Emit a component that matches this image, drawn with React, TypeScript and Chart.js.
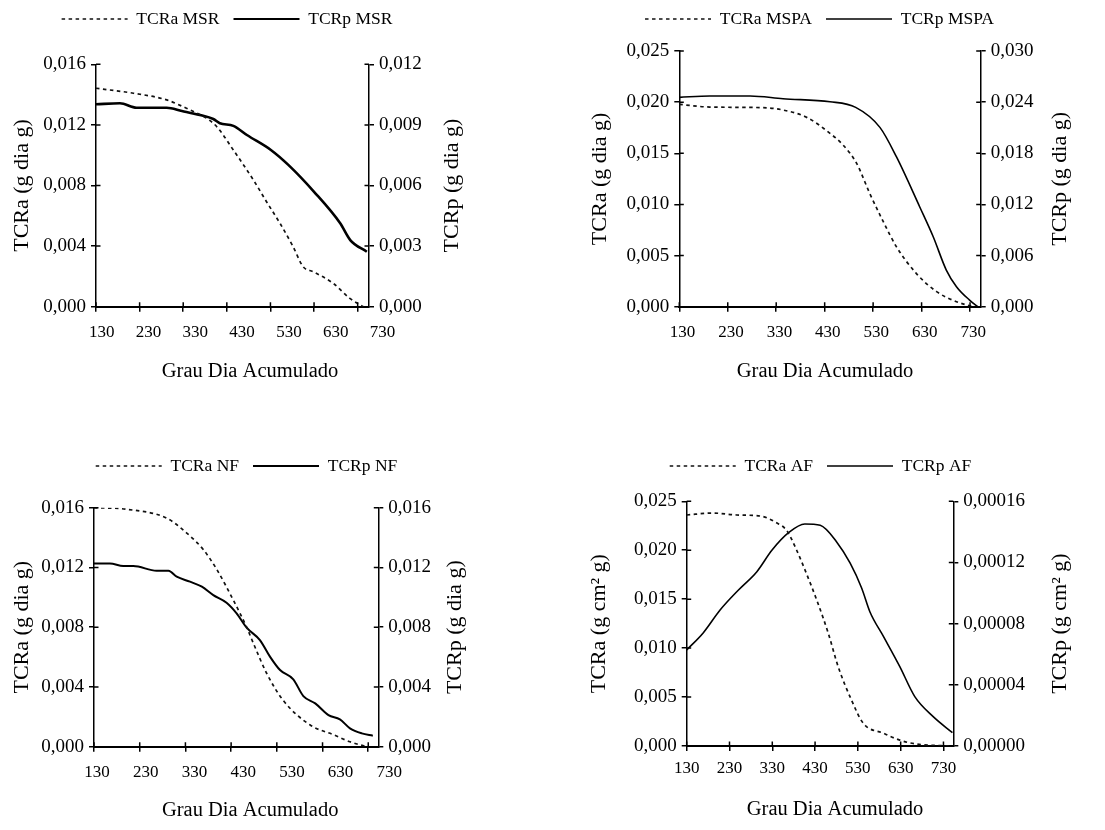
import React, { useEffect, useRef } from 'react';
import { Chart, registerables } from 'chart.js';

Chart.register(...registerables);

const FONT = "'Liberation Serif', 'Times New Roman', serif";

// ---------- shared axis data ----------
const X_TICKS = [130, 230, 330, 430, 530, 630, 730];
const X_TITLE = 'Grau Dia Acumulado';

// ---------- Panel 1: MSR ----------
const MSR_LABELS = ['TCRa MSR', 'TCRp MSR'];
const MSR_A_X = [130, 216, 292, 346, 384, 407, 445, 491, 521, 552, 582, 605, 628, 674, 712, 743];
const MSR_A_Y = [0.01442, 0.01409, 0.01365, 0.01298, 0.01243, 0.01188, 0.01034, 0.00836, 0.00693, 0.0055, 0.00396, 0.00264, 0.00231, 0.00154, 0.00055, 0];
const MSR_P_X = [130, 185, 223, 292, 327, 368, 399, 414, 445, 476, 531, 571, 630, 690, 713, 751];
const MSR_P_Y = [0.01002, 0.01007, 0.00985, 0.00985, 0.00969, 0.00949, 0.00929, 0.00908, 0.00895, 0.0085, 0.00776, 0.00702, 0.00569, 0.00413, 0.0033, 0.00272];
const MSR_LEFT_TICKS = [0, 0.004, 0.008, 0.012, 0.016];
const MSR_RIGHT_TICKS = [0, 0.003, 0.006, 0.009, 0.012];

// ---------- Panel 2: MSPA ----------
const MSPA_LABELS = ['TCRa MSPA', 'TCRp MSPA'];
const MSPA_A_X = [130, 193, 303, 344, 393, 441, 468, 496, 523, 551, 578, 619, 661, 702, 736];
const MSPA_A_Y = [0.01978, 0.01952, 0.01946, 0.01923, 0.01851, 0.01695, 0.01581, 0.01401, 0.01108, 0.00831, 0.00587, 0.00326, 0.00147, 0.00049, 0];
const MSPA_P_X = [130, 193, 276, 344, 441, 494, 544, 578, 626, 654, 681, 702, 729, 746];
const MSPA_P_Y = [0.02456, 0.02472, 0.02472, 0.0244, 0.02405, 0.02339, 0.02104, 0.0176, 0.01173, 0.00821, 0.0043, 0.00235, 0.00078, 0];
const MSPA_LEFT_TICKS = [0, 0.005, 0.01, 0.015, 0.02, 0.025];
const MSPA_RIGHT_TICKS = [0, 0.006, 0.012, 0.018, 0.024, 0.03];

// ---------- Panel 3: NF ----------
const NF_LABELS = ['TCRa NF', 'TCRp NF'];
const NF_A_X = [130, 200, 289, 333, 369, 398, 435, 464, 479, 508, 544, 603, 654, 690, 727];
const NF_A_Y = [0.016, 0.0159, 0.0153, 0.0143, 0.0132, 0.0119, 0.0098, 0.008, 0.0069, 0.0049, 0.0031, 0.00145, 0.0008, 0.00033, 0];
const NF_P_X = [130, 165, 194, 216, 267, 293, 311, 340, 366, 391, 420, 442, 464, 493, 515, 537, 566, 588, 614, 643, 668, 690, 716, 740];
const NF_P_Y = [0.01227, 0.01227, 0.0121, 0.0121, 0.01178, 0.01178, 0.01138, 0.01105, 0.01071, 0.01015, 0.00964, 0.00893, 0.00797, 0.00714, 0.00603, 0.00513, 0.00451, 0.00339, 0.0029, 0.00212, 0.00183, 0.00123, 0.00089, 0.00074];
const NF_LEFT_TICKS = [0, 0.004, 0.008, 0.012, 0.016];
const NF_RIGHT_TICKS = [0, 0.004, 0.008, 0.012, 0.016];

// ---------- Panel 4: AF ----------
const AF_LABELS = ['TCRa AF', 'TCRp AF'];
const AF_A_X = [130, 192, 247, 301, 340, 364, 387, 410, 434, 461, 484, 515, 543, 590, 628, 667, 745];
const AF_A_Y = [0.0236, 0.0238, 0.0236, 0.0235, 0.0228, 0.022, 0.02, 0.0176, 0.0149, 0.0115, 0.0081, 0.0047, 0.0023, 0.0013, 0.0006, 0.0002, 0];
const AF_P_X = [130, 169, 208, 251, 294, 329, 368, 406, 442, 480, 512, 539, 558, 590, 628, 663, 706, 751];
const AF_P_Y = [0.0000628, 0.0000741, 0.0000889, 0.000102, 0.000114, 0.000128, 0.0001395, 0.0001452, 0.0001443, 0.0001336, 0.0001195, 0.0001031, 0.0000878, 0.0000715, 0.0000519, 0.0000323, 0.0000192, 0.0000087];
const AF_LEFT_TICKS = [0, 0.005, 0.01, 0.015, 0.02, 0.025];
const AF_RIGHT_TICKS = [0, 0.00004, 0.00008, 0.00012, 0.00016];

const fmt = (v: number, d: number) => v.toFixed(d).replace('.', ',');

const PANELS = [
  {
    key: 'msr', labels: MSR_LABELS, aX: MSR_A_X, aY: MSR_A_Y, pX: MSR_P_X, pY: MSR_P_Y,
    leftTicks: MSR_LEFT_TICKS, rightTicks: MSR_RIGHT_TICKS, leftDec: 3, rightDec: 3,
    leftTitle: 'TCRa (g dia g)', rightTitle: 'TCRp (g dia g)', xMax: 756,
    canvas: { left: 0, top: -10, width: 552, height: 425 },
    pad: { left: 0, right: 98, top: 6.25, bottom: 68.3 }, leftW: 96, rightW: 85, legendGap: 26.55, xAxisH: 40,
    solidW: 2.6, leftTitleDx: -74, rightTitleDx: 83, xTitleDx: 17.5, xTitleDy: 65.3,
    xLabelDy: 26, xLabelShift: 5.7, xLabelStretch: 1.073,
  },
  {
    key: 'mspa', labels: MSPA_LABELS, aX: MSPA_A_X, aY: MSPA_A_Y, pX: MSPA_P_X, pY: MSPA_P_Y,
    leftTicks: MSPA_LEFT_TICKS, rightTicks: MSPA_RIGHT_TICKS, leftDec: 3, rightDec: 3,
    leftTitle: 'TCRa (g dia g)', rightTitle: 'TCRp (g dia g)', xMax: 752,
    canvas: { left: 552, top: -10, width: 553, height: 425 },
    pad: { left: 0, right: 18, top: 6.25, bottom: 68.3 }, leftW: 127.3, rightW: 106.3, legendGap: 13.25, xAxisH: 40,
    solidW: 1.6, leftTitleDx: -79.3, rightTitleDx: 79.3, xTitleDx: -5, xTitleDy: 65.3,
    xLabelDy: 26, xLabelShift: 3.2, xLabelStretch: 1.0,
  },
  {
    key: 'nf', labels: NF_LABELS, aX: NF_A_X, aY: NF_A_Y, pX: NF_P_X, pY: NF_P_Y,
    leftTicks: NF_LEFT_TICKS, rightTicks: NF_RIGHT_TICKS, leftDec: 3, rightDec: 3,
    leftTitle: 'TCRa (g dia g)', rightTitle: 'TCRp (g dia g)', xMax: 752,
    canvas: { left: 0, top: 415, width: 552, height: 415 },
    pad: { left: 0, right: 59, top: 28.25, bottom: 43.3 }, leftW: 94, rightW: 114.7, legendGap: 22.95, xAxisH: 40,
    solidW: 2.0, leftTitleDx: -72, rightTitleDx: 76.7, xTitleDx: 14, xTitleDy: 63.5,
    xLabelDy: 26, xLabelShift: 3, xLabelStretch: 1.066,
  },
  {
    key: 'af', labels: AF_LABELS, aX: AF_A_X, aY: AF_A_Y, pX: AF_P_X, pY: AF_P_Y,
    leftTicks: AF_LEFT_TICKS, rightTicks: AF_RIGHT_TICKS, leftDec: 3, rightDec: 5,
    leftTitle: 'TCRa (g cm\u00B2 g)', rightTitle: 'TCRp (g cm\u00B2 g)', xMax: 753,
    canvas: { left: 552, top: 415, width: 553, height: 415 },
    pad: { left: 0, right: 16, top: 28.25, bottom: 44 }, leftW: 134.7, rightW: 135.7, legendGap: 16.55, xAxisH: 40,
    solidW: 1.6, leftTitleDx: -87.7, rightTitleDx: 106.7, xTitleDx: 15, xTitleDy: 63.5,
    xLabelDy: 23, xLabelShift: 0, xLabelStretch: 1.0,
  },
];

type PanelCfg = (typeof PANELS)[number];

function makeDecor(p: PanelCfg) {
  return {
    id: 'decor_' + p.key,
    beforeLayout(chart: any) {
      const lg = chart.legend;
      if (lg && !lg.__gapPatched) {
        const fit = lg.fit.bind(lg);
        lg.fit = () => {
          fit();
          lg.height += p.legendGap;
        };
        lg.__gapPatched = true;
      }
    },
    afterDraw(chart: any) {
      const { ctx, chartArea: ca, scales } = chart;
      const xs = scales.x;
      const yl = scales.y;
      const yr = scales.y1;
      ctx.save();
      // inner halves of tick marks (ticks cross the axes)
      ctx.strokeStyle = '#000';
      ctx.lineWidth = 1.5;
      ctx.beginPath();
      yl.ticks.forEach((t: any) => {
        const py = yl.getPixelForValue(t.value);
        ctx.moveTo(ca.left, py);
        ctx.lineTo(ca.left + 4.5, py);
      });
      yr.ticks.forEach((t: any) => {
        const py = yr.getPixelForValue(t.value);
        ctx.moveTo(ca.right - 4.5, py);
        ctx.lineTo(ca.right, py);
      });
      xs.ticks.forEach((t: any) => {
        const px = xs.getPixelForValue(t.value);
        ctx.moveTo(px, ca.bottom - 4.5);
        ctx.lineTo(px, ca.bottom);
      });
      ctx.stroke();

      // x tick labels
      ctx.fillStyle = '#000';
      ctx.textAlign = 'center';
      ctx.textBaseline = 'middle';
      ctx.font = `17px ${FONT}`;
      xs.ticks.forEach((t: any) => {
        const px = xs.getPixelForValue(t.value);
        const lx = ca.left + p.xLabelShift + (px - ca.left) * p.xLabelStretch;
        ctx.fillText(String(t.value), lx, ca.bottom + p.xLabelDy);
      });

      // axis titles
      const midY = (ca.top + ca.bottom) / 2;
      ctx.font = `22px ${FONT}`;
      ctx.save();
      ctx.translate(ca.left + p.leftTitleDx, midY);
      ctx.rotate(-Math.PI / 2);
      ctx.fillText(p.leftTitle, 0, 0);
      ctx.restore();
      ctx.save();
      ctx.translate(ca.right + p.rightTitleDx, midY);
      ctx.rotate(-Math.PI / 2);
      ctx.fillText(p.rightTitle, 0, 0);
      ctx.restore();
      ctx.font = `20.5px ${FONT}`;
      ctx.fillText(X_TITLE, (ca.left + ca.right) / 2 + p.xTitleDx, ca.bottom + p.xTitleDy);
      ctx.restore();
    },
  };
}

function buildConfig(p: PanelCfg): any {
  const yAxis = (ticksArr: number[], dec: number, position: string, w: number) => ({
    type: 'linear',
    position,
    min: ticksArr[0],
    max: ticksArr[ticksArr.length - 1],
    afterBuildTicks: (s: any) => {
      s.ticks = ticksArr.map((v) => ({ value: v }));
    },
    afterFit: (s: any) => {
      s.width = w;
    },
    border: { display: true, color: '#000', width: 1.5 },
    grid: { display: true, drawOnChartArea: false, drawTicks: true, tickLength: 5, color: '#000', lineWidth: 1.5 },
    ticks: {
      color: '#000',
      padding: 5,
      font: { family: FONT, size: 19 },
      callback: (v: any) => fmt(Number(v), dec),
    },
  });

  return {
    type: 'line',
    data: {
      datasets: [
        {
          label: p.labels[0],
          data: p.aX.map((x, i) => ({ x, y: p.aY[i] })),
          yAxisID: 'y',
          borderColor: '#111',
          borderWidth: 1.7,
          borderDash: [3.5, 3.5],
          pointRadius: 0,
          fill: false,
          cubicInterpolationMode: 'monotone',
        },
        {
          label: p.labels[1],
          data: p.pX.map((x, i) => ({ x, y: p.pY[i] })),
          yAxisID: 'y1',
          borderColor: '#000',
          borderWidth: p.solidW,
          borderDash: [],
          pointRadius: 0,
          fill: false,
          cubicInterpolationMode: 'monotone',
        },
      ],
    },
    options: {
      responsive: false,
      maintainAspectRatio: false,
      animation: false,
      devicePixelRatio: 1,
      layout: { padding: p.pad },
      scales: {
        x: {
          type: 'linear',
          position: 'bottom',
          min: X_TICKS[0],
          max: p.xMax,
          afterBuildTicks: (s: any) => {
            s.ticks = X_TICKS.map((v) => ({ value: v }));
          },
          afterFit: (s: any) => {
            s.height = p.xAxisH;
          },
          border: { display: true, color: '#000', width: 2 },
          grid: { display: true, drawOnChartArea: false, drawTicks: true, tickLength: 5, color: '#000', lineWidth: 1.5 },
          ticks: { display: false },
        },
        y: yAxis(p.leftTicks, p.leftDec, 'left', p.leftW),
        y1: yAxis(p.rightTicks, p.rightDec, 'right', p.rightW),
      },
      plugins: {
        tooltip: { enabled: false },
        legend: {
          display: true,
          position: 'top',
          align: 'center',
          labels: {
            usePointStyle: true,
            pointStyle: 'line',
            pointStyleWidth: 66,
            padding: 14,
            color: '#000',
            font: { family: FONT, size: 17.5 },
            generateLabels: (chart: any) => {
              const items = (Chart.defaults as any).plugins.legend.labels.generateLabels(chart);
              items.forEach((it: any) => {
                const ds = chart.data.datasets[it.datasetIndex];
                it.lineDash = ds.borderDash || [];
                it.lineWidth = Math.min(ds.borderWidth, 2);
                it.strokeStyle = ds.borderColor;
                it.pointStyle = 'line';
              });
              return items;
            },
          },
        },
      },
    },
    plugins: [makeDecor(p)],
  };
}

function Panel({ p }: { p: PanelCfg }) {
  const ref = useRef<HTMLCanvasElement>(null);
  useEffect(() => {
    const chart = new Chart(ref.current as HTMLCanvasElement, buildConfig(p));
    return () => chart.destroy();
  }, [p]);
  return (
    <canvas
      ref={ref}
      width={p.canvas.width}
      height={p.canvas.height}
      style={{
        position: 'absolute',
        left: p.canvas.left,
        top: p.canvas.top,
        width: p.canvas.width,
        height: p.canvas.height,
      }}
    />
  );
}

export default function App() {
  return (
    <div
      style={{
        position: 'absolute',
        left: 0,
        top: 0,
        width: 1105,
        height: 830,
        background: '#fff',
        overflow: 'hidden',
      }}
    >
      {PANELS.map((p) => (
        <Panel key={p.key} p={p} />
      ))}
    </div>
  );
}
